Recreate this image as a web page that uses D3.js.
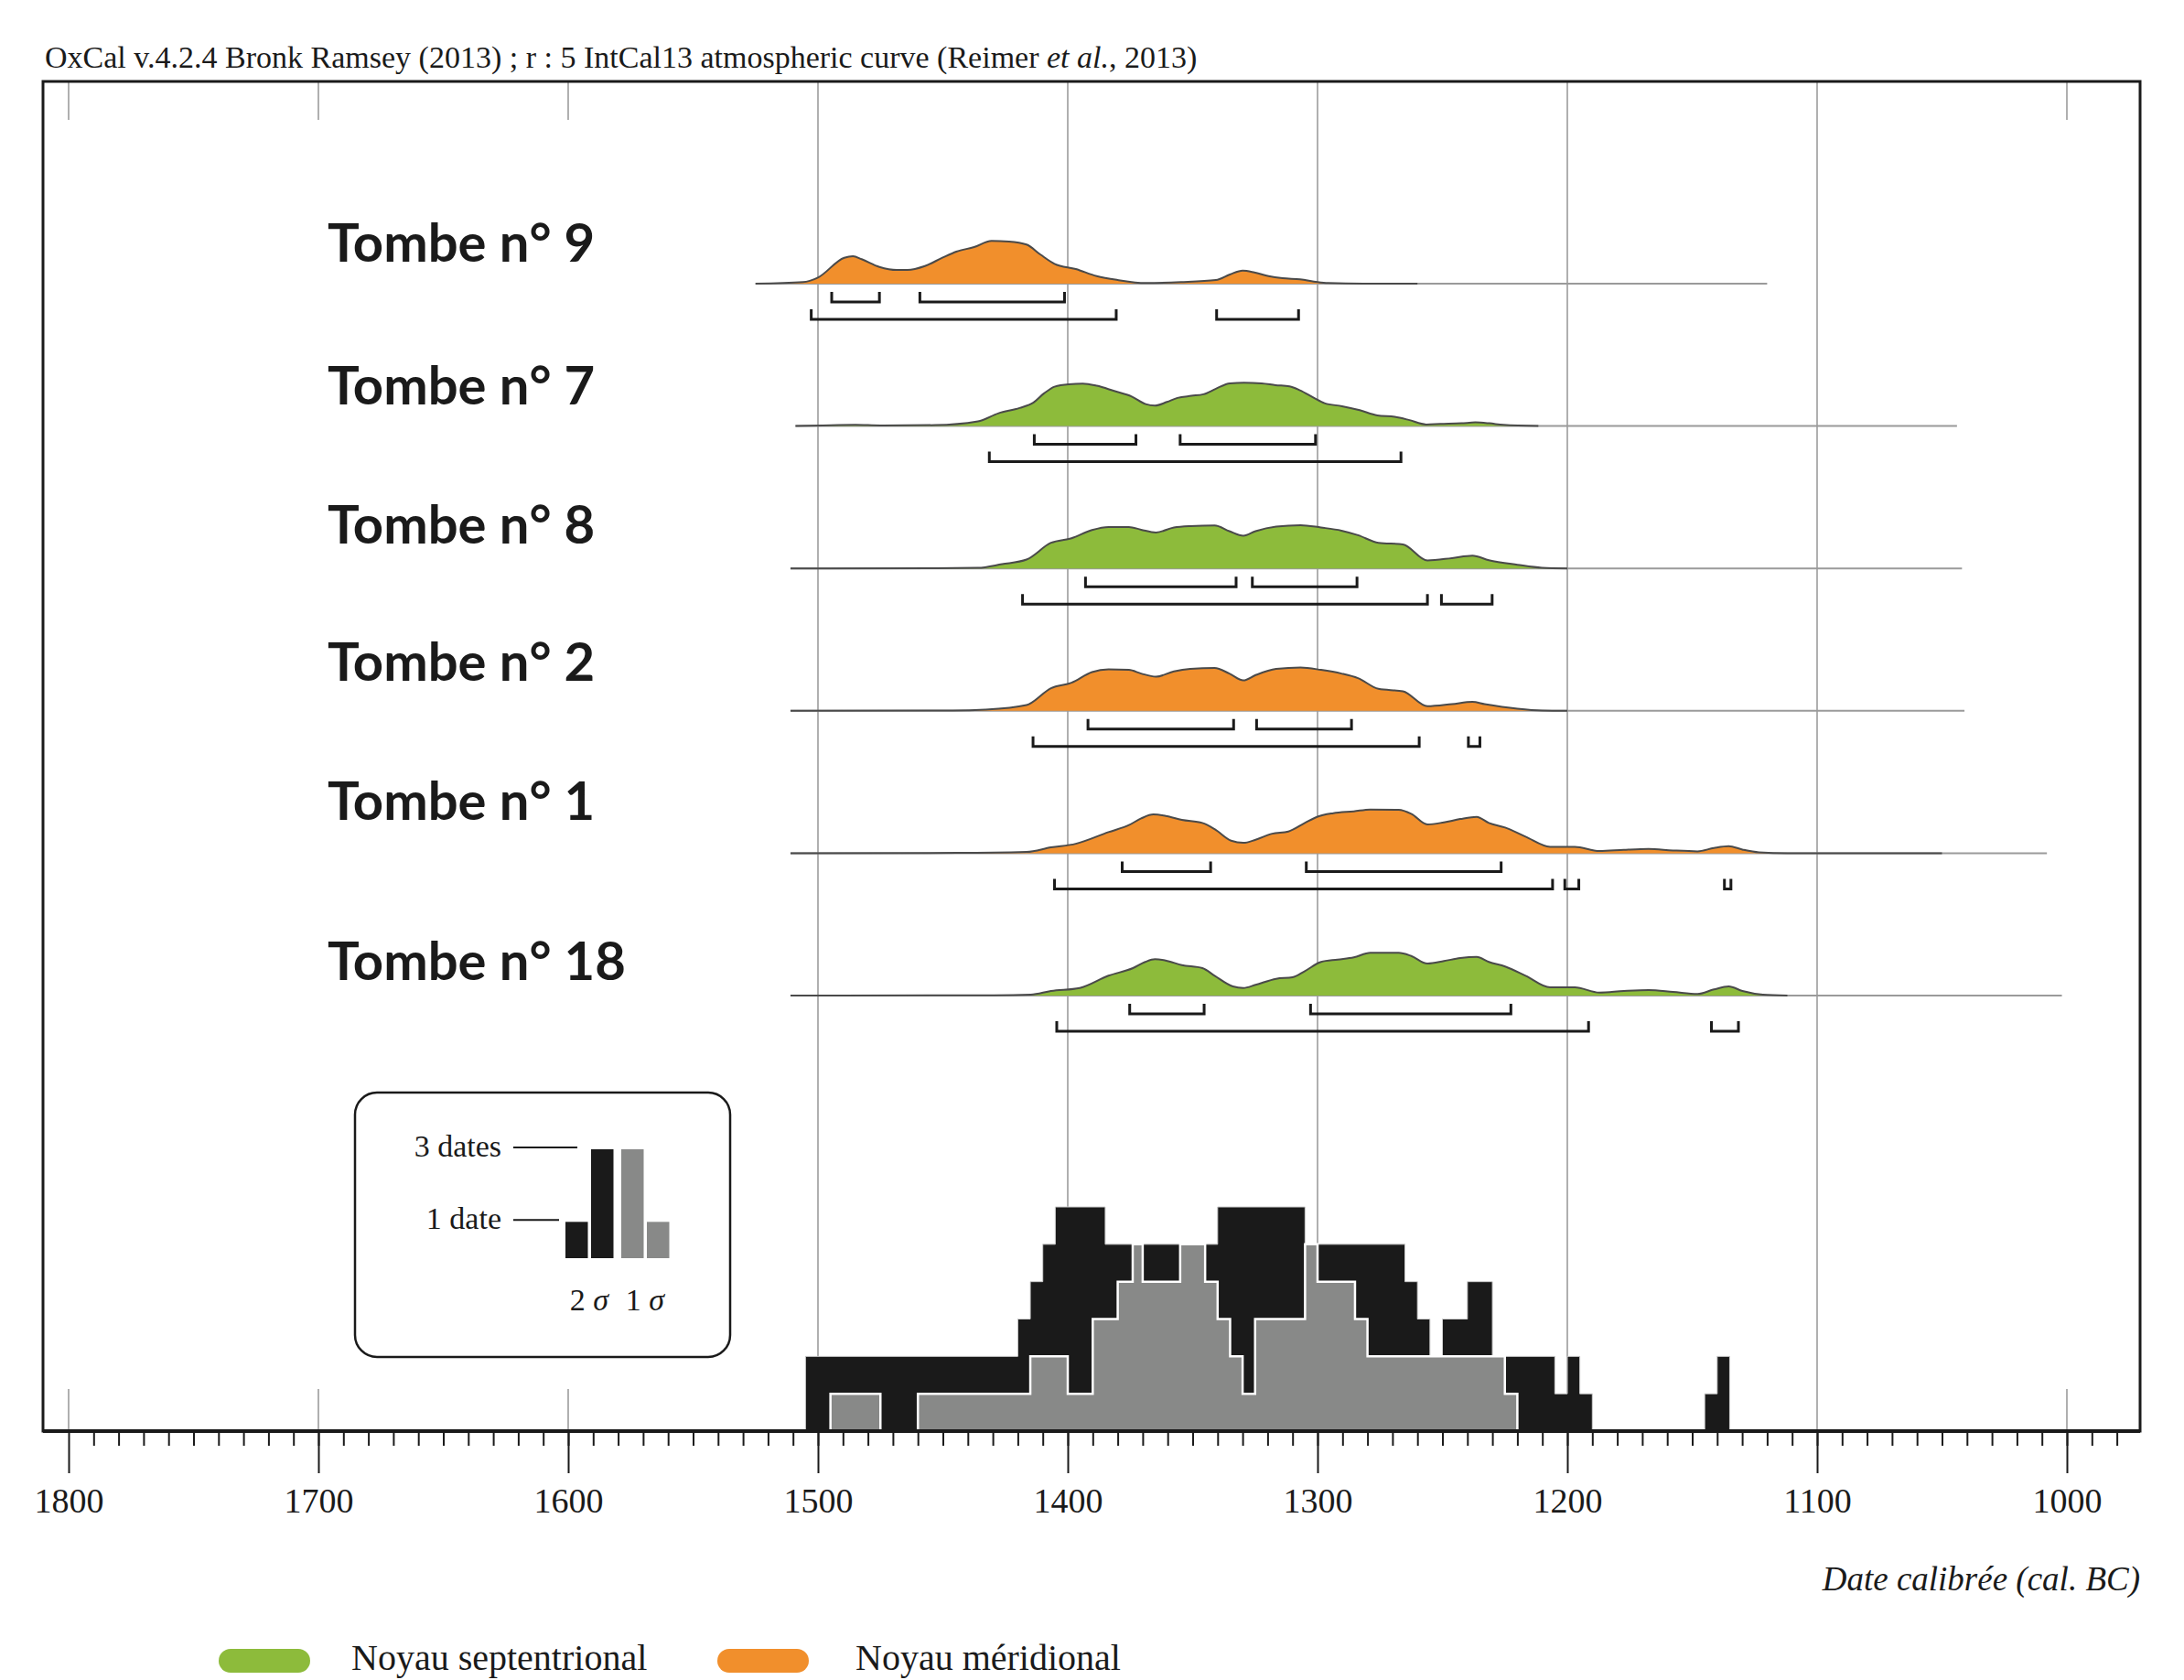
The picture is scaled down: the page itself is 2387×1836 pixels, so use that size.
<!DOCTYPE html>
<html>
<head>
<meta charset="utf-8">
<script src="https://cdn.jsdelivr.net/npm/d3@7"></script>
<style>
  body { margin: 0; background: #fff; }
  svg { display: block; }
  .serif { font-family: "Liberation Serif", "DejaVu Serif", serif; fill: #1a1a1a; }
</style>
</head>
<body>
<svg id="chart" width="2387" height="1836"></svg>
<script>
// ---- data ----
const tombs = ["Tombe n° 9", "Tombe n° 7", "Tombe n° 8", "Tombe n° 2", "Tombe n° 1", "Tombe n° 18"]
const noyau = ["méridional", "septentrional", "septentrional", "méridional", "méridional", "septentrional"]

// grey baseline extent of each plot (cal. BC)
const plotRange = [[1525, 1120], [1509, 1044], [1511, 1042], [1511, 1041], [1511, 1008], [1511, 1002]]

// probability curves: [year, relative density]
const curve9 = [[1525,0],[1506,1.7],[1500,6.7],[1489.5,28.3],[1486,30],[1482.5,26.7],[1475.4,18.3],[1468.4,15],[1464.2,15],[1457.2,19.3],[1450.2,28.3],[1444.6,35],[1437.5,40],[1430.5,46.7],[1423.5,46],[1416.5,42.7],[1410.9,31.7],[1405.3,21.7],[1396.8,16],[1388.4,8.3],[1380,4],[1368.8,0.7],[1354.7,1.7],[1340.7,4],[1335.1,10],[1330,14.3],[1325.3,12.3],[1319.6,8.3],[1314,6],[1307,4.7],[1300,1.7],[1295.8,0.7],[1281.7,0],[1260,0]]
const curve7 = [[1509,0],[1498,0.7],[1485,1.3],[1475,0.7],[1453,1],[1436,5],[1427.7,14],[1419.3,19.7],[1413.7,25.7],[1409.5,35.7],[1405.3,43],[1399.6,45.7],[1394,46.3],[1388.4,44],[1381.4,38.3],[1374.4,32.3],[1368.8,24],[1365.1,22.3],[1360.3,26.3],[1356.1,30.7],[1350.5,33],[1345.7,34.7],[1340.7,40.7],[1335.1,46.7],[1329.5,47.3],[1322.4,46.7],[1316.8,44.7],[1311.2,43.3],[1307,39],[1301.4,30.7],[1297.2,25],[1290.2,21.7],[1283.1,17.3],[1276.1,11.7],[1269.1,10],[1263.5,6.7],[1256.5,1.7],[1250.9,2.3],[1242.4,3],[1236.8,4],[1231.2,3],[1225.6,1.3],[1211.6,0]]
const curve8 = [[1511,0],[1452.5,0.3],[1436,0.7],[1426.3,4.7],[1416.5,9.7],[1406.7,28],[1398.5,33],[1390.3,42],[1383.7,45.3],[1375.5,45.3],[1370.6,42.3],[1364.7,39.3],[1357.5,44.7],[1351,46.3],[1341.2,47],[1335.3,40.7],[1329.7,35.7],[1324.8,40.7],[1316.6,45.7],[1306.8,47.3],[1298.6,44.7],[1290.4,41.3],[1283.8,36.3],[1275.6,28],[1265.8,26.3],[1256,8.7],[1246.2,11.3],[1238,14],[1231.4,9],[1220,4],[1210.2,0.7],[1200,0]]
const curve2 = [[1511,0],[1446,0.3],[1433,1.3],[1416.5,6.3],[1406.7,24.7],[1398.5,30.7],[1390.3,42.3],[1383.7,45.3],[1375.5,44.7],[1370.6,40.7],[1364.7,37.3],[1357.5,43],[1351,45.7],[1341.2,46.7],[1335.3,40.7],[1329.7,33.3],[1324.8,39],[1316.6,45.7],[1306.8,47.3],[1298.6,44.7],[1290.4,40.7],[1283.8,35.7],[1275.6,24],[1265.8,21.3],[1256,5],[1246.2,7.3],[1238,9.7],[1233.1,7.3],[1220,2.3],[1210.2,0.3],[1200,0]]
const curve1 = [[1511,0],[1444.3,0.3],[1416.5,1.3],[1406.7,6.3],[1396.8,10.3],[1383.7,23],[1375.5,30.7],[1370.6,38],[1365.7,42.3],[1360.8,40.7],[1354.3,36.3],[1346.1,33],[1341.2,26.3],[1334.6,13.7],[1329.7,11.3],[1324.8,14.7],[1318.2,21.3],[1311.7,23.7],[1305.1,33],[1300.2,39.7],[1293.7,43.7],[1285.5,45.7],[1278.9,47.7],[1267.5,47.3],[1262.5,43],[1256,31.3],[1249.4,33.7],[1242.9,37.3],[1236.3,39.7],[1231.4,33],[1224.9,28],[1216.7,18],[1206.9,7],[1197,7],[1187.2,2.3],[1177.4,3.7],[1167.5,4.7],[1157.7,3],[1147.9,2],[1141.3,5.7],[1135.4,7.7],[1129.9,4],[1123.3,1],[1111.9,0],[1050,0]]
const curve18 = [[1511,0],[1429.6,0.3],[1414.8,1],[1406.7,5],[1395.2,8.3],[1383.7,21.7],[1373.9,30],[1369,36.7],[1365.1,39.7],[1360.8,38.3],[1354.3,33.3],[1346.1,30],[1341.2,21.7],[1333.9,10],[1329.7,8.3],[1324.8,11.7],[1316.6,18.3],[1310,20],[1305.1,26.7],[1298.6,36.7],[1292,39.3],[1285.5,41.7],[1278.9,46.7],[1267.5,46.7],[1262.5,43.3],[1256,35],[1249.4,37.7],[1242.9,41],[1236.3,42.3],[1231.4,36.7],[1224.9,31.7],[1216.7,21.7],[1206.9,9],[1197,9],[1187.2,3.3],[1177.4,5],[1167.5,6],[1157.7,4],[1147.9,1.7],[1141.3,6.7],[1135.4,10],[1129.9,5],[1121.7,1],[1111.9,0]]
const curves = [curve9, curve7, curve8, curve2, curve1, curve18]

// 1 sigma and 2 sigma ranges (cal. BC)
const sigma1 = [
  [[1494.5,1475.4],[1459.2,1401.3]],
  [[1413.4,1372.7],[1355,1300.8]],
  [[1392.9,1332.6],[1326.1,1284.2]],
  [[1391.9,1333.6],[1324.4,1286.4]],
  [[1378.2,1342.8],[1304.5,1226.5]],
  [[1375.2,1345.4],[1302.8,1222.6]]
]
const sigma2 = [
  [[1502.7,1380.6],[1340.4,1307.6]],
  [[1431.4,1266.6]],
  [[1418.1,1256],[1250.4,1230.1]],
  [[1413.9,1259.3],[1239.6,1235]],
  [[1405.3,1205.9],[1201,1195.4],[1137.1,1134.5]],
  [[1404.4,1191.5],[1142.3,1131.5]]
]

// histogram of number of dates: [year from, count until next year]
const hist2sigma = [[1505,2],[1420,3],[1415,4],[1410,5],[1405,6],[1385,5],[1340,6],[1305,5],[1265,4],[1260,3],[1255,2],[1250,3],[1240,4],[1230,2],[1205,1],[1200,2],[1195,1],[1190,0],[1145,1],[1140,2],[1135,0]]
const hist1sigma = [[1495,1],[1475,0],[1460,1],[1415,2],[1400,1],[1390,3],[1380,4],[1374,5],[1370,4],[1355,5],[1345,4],[1340,3],[1335,2],[1330,1],[1325,3],[1305,5],[1300,4],[1285,3],[1280,2],[1225,1],[1220,0]]

const yearTicks = [1800, 1700, 1600, 1500, 1400, 1300, 1200, 1100, 1000]
const fullGrid = [1500, 1400, 1300, 1200, 1100]
const minorYears = d3.range(1790, 975, -10)

const colours = { "méridional": "#f18f2c", "septentrional": "#8dbb3b" }

// ---- scales ----
const svg = d3.select("#chart")
const x = d3.scaleLinear().domain([1800, 1000]).range([75, 2259])
const rowY = d3.scalePoint().domain(tombs).range([310, 1088])
const dens = d3.scaleLinear().domain([0, 48]).range([0, 48])
const countY = d3.scaleLinear().domain([0, 6]).range([1564, 1319])

const frameTop = 89, frameBottom = 1564, frameLeft = 47, frameRight = 2339

// ---- grid ----
const grid = svg.append("g").attr("stroke", "#9c9c9c").attr("stroke-width", 1.6)
grid.selectAll("line.full").data(fullGrid).join("line").attr("class", "full")
  .attr("x1", d => x(d)).attr("x2", d => x(d)).attr("y1", frameTop).attr("y2", frameBottom)
const shortGrid = yearTicks.filter(d => !fullGrid.includes(d))
grid.selectAll("line.top").data(shortGrid).join("line").attr("class", "top")
  .attr("x1", d => x(d)).attr("x2", d => x(d)).attr("y1", frameTop).attr("y2", frameTop + 42)
grid.selectAll("line.bot").data(shortGrid).join("line").attr("class", "bot")
  .attr("x1", d => x(d)).attr("x2", d => x(d)).attr("y1", frameBottom - 46).attr("y2", frameBottom)

// ---- probability plots ----
const rows = svg.append("g").selectAll("g").data(tombs).join("g")
  .attr("transform", d => `translate(0,${rowY(d)})`)

rows.append("line")
  .attr("x1", (d, i) => x(plotRange[i][0])).attr("x2", (d, i) => x(plotRange[i][1]))
  .attr("stroke", "#9a9a9a").attr("stroke-width", 2)

const area = d3.area().x(d => x(d[0])).y0(0).y1(d => -dens(d[1])).curve(d3.curveMonotoneX)
const outline = d3.line().x(d => x(d[0])).y(d => -dens(d[1])).curve(d3.curveMonotoneX)

rows.append("path")
  .attr("d", (d, i) => area(curves[i]))
  .attr("fill", (d, i) => colours[noyau[i]])
rows.append("path")
  .attr("d", (d, i) => outline(curves[i]))
  .attr("fill", "none").attr("stroke", "#4a4a4a").attr("stroke-width", 2)

function bracket(r, off) {
  return `M${x(r[0])},${off - 11}V${off}H${x(r[1])}V${off - 11}`
}
rows.selectAll("path.s1").data((d, i) => sigma1[i]).join("path").attr("class", "s1")
  .attr("d", r => bracket(r, 20))
rows.selectAll("path.s2").data((d, i) => sigma2[i]).join("path").attr("class", "s2")
  .attr("d", r => bracket(r, 39))
rows.selectAll("path.s1, path.s2")
  .attr("fill", "none").attr("stroke", "#1a1a1a").attr("stroke-width", 3)

rows.append("text")
  .attr("x", 358)
  .attr("y", (d, i) => [-24, -24, -27, -33, -36, -17][i])
  .attr("font-family", "Lato, 'Open Sans', sans-serif").attr("font-weight", 700)
  .attr("font-size", 58).attr("fill", "#1a1a1a")
  .text(d => d)

// ---- histogram ----
const step = d3.area().x(d => x(d[0])).y0(countY(0)).y1(d => countY(d[1])).curve(d3.curveStepAfter)
svg.append("path").attr("d", step(hist2sigma))
  .attr("fill", "#1a1a1a").attr("stroke", "#cfcfcf").attr("stroke-width", 1)
svg.append("path").attr("d", step(hist1sigma))
  .attr("fill", "#888988").attr("stroke", "#fff").attr("stroke-width", 2.5)

// ---- frame & axis ----
svg.append("rect").attr("x", frameLeft).attr("y", frameTop)
  .attr("width", frameRight - frameLeft).attr("height", frameBottom - frameTop)
  .attr("fill", "none").attr("stroke", "#1a1a1a").attr("stroke-width", 3)
svg.append("line").attr("x1", frameLeft).attr("x2", frameRight).attr("y1", frameBottom).attr("y2", frameBottom)
  .attr("stroke", "#1a1a1a").attr("stroke-width", 4)

svg.append("g").attr("transform", `translate(0,${frameBottom})`)
  .call(d3.axisBottom(x).tickValues(minorYears).tickSize(16).tickFormat(""))
  .call(g => g.select(".domain").remove())
  .call(g => g.selectAll("line").attr("stroke", "#1a1a1a").attr("stroke-width", 2))

svg.append("g").attr("transform", `translate(0,${frameBottom})`)
  .call(d3.axisBottom(x).tickValues(yearTicks).tickSize(46).tickFormat(d3.format("d")))
  .call(g => g.select(".domain").remove())
  .call(g => g.selectAll("line").attr("stroke", "#1a1a1a").attr("stroke-width", 2))
  .call(g => g.selectAll("text").attr("y", 89).attr("dy", 0)
    .attr("class", "serif").attr("font-size", 38))

svg.append("text").attr("class", "serif")
  .attr("x", frameRight).attr("y", 1738).attr("text-anchor", "end")
  .attr("font-size", 37).attr("font-style", "italic")
  .text("Date calibrée (cal. BC)")

// ---- title ----
const title = svg.append("text").attr("class", "serif").attr("x", 49).attr("y", 74).attr("font-size", 34)
title.append("tspan").text("OxCal v.4.2.4 Bronk Ramsey (2013) ; r : 5 IntCal13 atmospheric curve (Reimer ")
title.append("tspan").attr("font-style", "italic").text("et al.")
title.append("tspan").text(", 2013)")

// ---- legend box ----
const legendCounts = [1, 3]
const lgY = d3.scaleLinear().domain([0, 3]).range([1375, 1256])
const lg = svg.append("g")
lg.append("rect").attr("x", 388).attr("y", 1194).attr("width", 410).attr("height", 289).attr("rx", 24)
  .attr("fill", "none").attr("stroke", "#1a1a1a").attr("stroke-width", 2.5)
const lgBars = [
  { x: 618, c: legendCounts[0], fill: "#1a1a1a" },
  { x: 646, c: legendCounts[1], fill: "#1a1a1a" },
  { x: 679, c: legendCounts[1], fill: "#888988" },
  { x: 707, c: legendCounts[0], fill: "#888988" }
]
lg.selectAll("rect.bar").data(lgBars).join("rect").attr("class", "bar")
  .attr("x", d => d.x).attr("width", 24.5)
  .attr("y", d => lgY(d.c)).attr("height", d => lgY(0) - lgY(d.c))
  .attr("fill", d => d.fill)
lg.selectAll("line").data(legendCounts).join("line")
  .attr("x1", 561).attr("x2", d => d === 3 ? 631 : 611)
  .attr("y1", d => lgY(d) - 2).attr("y2", d => lgY(d) - 2)
  .attr("stroke", "#1a1a1a").attr("stroke-width", 2)
lg.selectAll("text.cnt").data(legendCounts).join("text").attr("class", "cnt serif")
  .attr("x", 548).attr("y", d => lgY(d) + 8).attr("text-anchor", "end").attr("font-size", 34)
  .text(d => d === 1 ? "1 date" : d + " dates")
const sig = lg.selectAll("text.sig").data(["2", "1"]).join("text").attr("class", "sig serif")
  .attr("x", (d, i) => [644, 705][i]).attr("y", 1432).attr("text-anchor", "middle").attr("font-size", 34)
sig.append("tspan").text(d => d + " ")
sig.append("tspan").attr("font-style", "italic").text("σ")

// ---- colour legend ----
const keys = ["septentrional", "méridional"]
const key = svg.append("g").selectAll("g").data(keys).join("g")
  .attr("transform", (d, i) => `translate(${[239, 784][i]},0)`)
key.append("rect").attr("y", 1802).attr("width", 100).attr("height", 26).attr("rx", 13)
  .attr("fill", d => colours[d])
key.append("text").attr("class", "serif").attr("x", (d, i) => [145, 151][i]).attr("y", 1825)
  .attr("font-size", 40).text(d => "Noyau " + d)
</script>
</body>
</html>
